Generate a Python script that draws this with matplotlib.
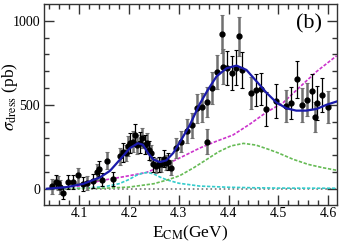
import matplotlib
matplotlib.use("Agg")
import matplotlib.pyplot as plt
from matplotlib.ticker import MultipleLocator, FuncFormatter

plt.rcParams['font.family'] = ['Liberation Serif', 'DejaVu Serif']
plt.rcParams['mathtext.fontset'] = 'stix'

# ---- data points ----
energy = [4.046, 4.053, 4.058, 4.061, 4.067, 4.078, 4.087, 4.097, 4.108, 4.116,
          4.127, 4.136, 4.140, 4.146, 4.156, 4.167,
          4.182, 4.188, 4.194, 4.198, 4.203, 4.208, 4.212, 4.216, 4.222, 4.227,
          4.232, 4.237, 4.241, 4.244, 4.249, 4.254, 4.261, 4.265, 4.270, 4.274,
          4.279, 4.285,
          4.295, 4.305, 4.316, 4.326, 4.336, 4.346, 4.356, 4.357, 4.366, 4.376,
          4.386, 4.389, 4.396, 4.406, 4.416, 4.421, 4.428, 4.446, 4.456, 4.466,
          4.476, 4.496, 4.516, 4.525, 4.537, 4.547, 4.557, 4.567, 4.573, 4.577,
          4.587, 4.600]
xsec = [15, 43, 35, 10, -23, 39, 39, 81, 29, 35,
        46, 100, 120, 54, 168, 58,
        194, 217, 213, 256, 271, 281, 320, 262, 275, 300,
        262, 271, 229, 213, 145, 136, 145, 145, 178, 155,
        161, 126,
        242, 281, 345, 378, 479, 484, 281, 517, 597, 694,
        920, 727, 717, 688, 721, 907, 707, 568, 588, 595,
        475, 522, 493, 508, 651, 499, 531, 580, 429, 512,
        557, 488]
err = [45, 40, 40, 40, 35, 40, 40, 45, 40, 40,
       40, 45, 45, 40, 50, 40,
       50, 55, 50, 60, 60, 60, 65, 55, 60, 60,
       55, 60, 55, 50, 45, 45, 45, 45, 50, 45,
       50, 45,
       60, 65, 70, 75, 85, 85, 75, 90, 95, 100,
       115, 105, 100, 100, 105, 115, 105, 95, 95, 95,
       100, 100, 95, 95, 110, 100, 100, 105, 90, 100,
       100, 95]
group = [0, 1, 0, 0, 1, 1, 1, 0, 1, 0,
         1, 0, 1, 1, 0, 1,
         0, 1, 0, 0, 1, 0, 1, 0, 1, 0,
         1, 0, 1, 0, 1, 0, 1, 0, 1, 0,
         1, 0,
         0, 0, 0, 0, 0, 0, 0, 0, 0, 0,
         0, 0, 1, 1, 1, 0, 1, 0, 1, 1,
         1, 1, 0, 1, 1, 0, 0, 1, 0, 1,
         1, 0]

# ---- fit curves ----
total_x = [4.035, 4.075, 4.108, 4.142, 4.162, 4.182, 4.202, 4.218, 4.228, 4.238,
           4.249, 4.262, 4.275, 4.289, 4.305, 4.322, 4.342, 4.359, 4.376, 4.396,
           4.416, 4.436, 4.456, 4.476, 4.496, 4.516, 4.536, 4.556, 4.577, 4.597, 4.617]
total_y = [0, 10, 29, 68, 107, 174, 242, 271, 262, 213,
           174, 159, 169, 213, 291, 378, 504, 591, 669, 717,
           733, 707, 640, 572, 514, 479, 465, 465, 475, 500, 519]

bkg_x = [4.035, 4.075, 4.110, 4.142, 4.190, 4.235, 4.275, 4.310, 4.342, 4.375,
         4.409, 4.443, 4.476, 4.510, 4.543, 4.577, 4.617]
bkg_y = [0, 4, 22, 48, 72, 97, 145, 195, 242, 282,
         320, 385, 455, 513, 605, 698, 791]

r1_x = [4.035, 4.100, 4.150, 4.180, 4.200, 4.215, 4.228, 4.238, 4.250, 4.262,
        4.275, 4.300, 4.342, 4.400, 4.450, 4.500, 4.617]
r1_y = [0, 3, 12, 30, 55, 80, 93, 97, 88, 70,
        54, 33, 16, 9, 6, 4, 3]

r2_x = [4.035, 4.150, 4.200, 4.250, 4.280, 4.302, 4.330, 4.356, 4.380, 4.405,
        4.430, 4.455, 4.480, 4.500, 4.530, 4.560, 4.590, 4.617]
r2_y = [0, 3, 10, 30, 55, 78, 125, 174, 220, 255,
        270, 260, 235, 213, 175, 145, 125, 110]

zero_x = [4.035, 4.617]
zero_y = [0, 0]

fig = plt.figure(figsize=(3.41, 2.45), dpi=100)
ax = fig.add_axes([0.130, 0.163, 0.857, 0.819])

ax.plot(zero_x, zero_y, color='#777777', ls=':', lw=1.2, zorder=1)
ax.plot(bkg_x, bkg_y, color='#cc33cc', ls='--', lw=1.2, dashes=(2, 1), zorder=2)
ax.plot(r1_x, r1_y, color='#33cccc', ls='--', lw=1.2, dashes=(2, 1), zorder=2)
ax.plot(r2_x, r2_y, color='#66bb55', ls='--', lw=1.2, dashes=(2, 1), zorder=2)

for g, col, lw in [(0, '#707070', 1.8), (1, 'black', 0.9)]:
    xs = [e for e, gg in zip(energy, group) if gg == g]
    ys = [s for s, gg in zip(xsec, group) if gg == g]
    es = [d for d, gg in zip(err, group) if gg == g]
    ax.errorbar(xs, ys, yerr=es, fmt='none', ecolor=col, elinewidth=lw,
                capsize=1.5, capthick=0.8, zorder=3)
ax.plot(energy, xsec, 'o', color='black', ms=3.5, zorder=4)

ax.plot(total_x, total_y, color='#1a1aaa', lw=1.6, zorder=5)

ax.set_xlim(4.03, 4.617)
ax.set_ylim(-97, 1097)
ax.xaxis.set_major_locator(MultipleLocator(0.1))
ax.xaxis.set_minor_locator(MultipleLocator(0.02))
ax.yaxis.set_major_locator(MultipleLocator(500))
ax.yaxis.set_minor_locator(MultipleLocator(100))
ax.tick_params(which='both', direction='in', top=True, right=True,
               labelsize=10, color='#333333')
ax.tick_params(axis='x', pad=1.5)
ax.tick_params(axis='y', pad=3)
ax.tick_params(which='major', length=7.5, width=1.0)
ax.tick_params(which='minor', length=3.6, width=1.0)
for s in ax.spines.values():
    s.set_linewidth(1.0)
    s.set_color('#333333')
ax.xaxis.set_major_formatter(FuncFormatter(lambda v, p: '%.1f' % v))

ax.set_xlabel(r'E$_{\rm CM}$(GeV)', fontsize=12.5)
ax.xaxis.set_label_coords(0.5, -0.092)
ax.set_ylabel(r'$\sigma_{\rm dress}$ (pb)', fontsize=12.5)
ax.yaxis.set_label_coords(-0.082, 0.54)
ax.text(0.949, 0.903, '(b)', transform=ax.transAxes, ha='right', va='center',
        fontsize=16)

fig.savefig('out.png', dpi=100)
